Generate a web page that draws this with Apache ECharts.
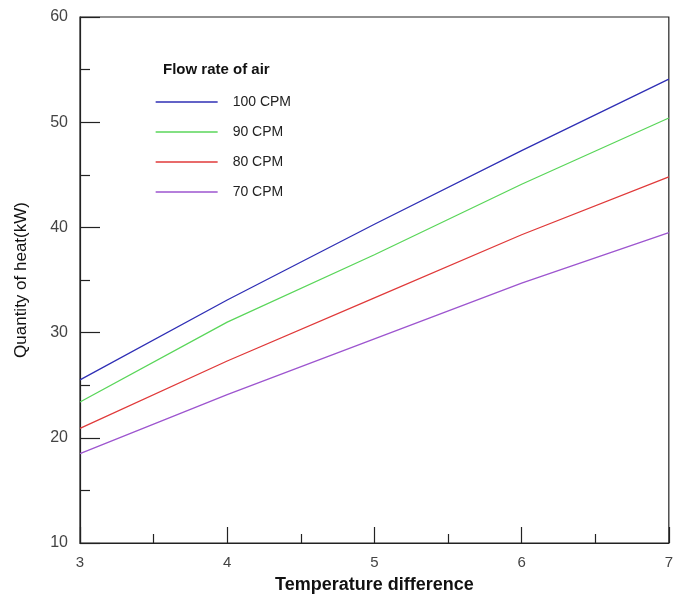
<!DOCTYPE html>
<html>
<head>
<meta charset="utf-8">
<script src="https://cdn.jsdelivr.net/npm/echarts@6/dist/echarts.min.js"></script>
<style>
  html, body { margin: 0; padding: 0; background: #fff; }
  #chart { width: 676px; height: 602px; }
</style>
</head>
<body>
<div id="chart"></div>
<script>
// temperature difference (x)
var temp_diff = [3, 4, 5, 6, 7];

// quantity of heat (kW), per flow rate
var cpm_100 = [25.5, 33.1, 40.3, 47.3, 54.1];
var cpm_90 = [23.4, 31.0, 37.4, 44.1, 50.4];
var cpm_80 = [20.9, 27.3, 33.3, 39.3, 44.8];
var cpm_70 = [18.5, 24.1, 29.4, 34.7, 39.5];

var series_names = ['100 CPM', '90 CPM', '80 CPM', '70 CPM'];
var series_colors = ['#2f2fb5', '#5ad65a', '#e03a3a', '#9d55cf'];

function pairs(ys) {
  return temp_diff.map(function (x, i) { return [x, ys[i]]; });
}

var all_data = [cpm_100, cpm_90, cpm_80, cpm_70];

var chart = echarts.init(document.getElementById('chart'));

chart.setOption({
  animation: false,
  textStyle: { fontFamily: 'Liberation Sans, Arial, sans-serif' },
  title: {
    text: 'Flow rate of air',
    left: 158,
    top: 57,
    textStyle: { fontSize: 15, fontWeight: 'bold', color: '#111' }
  },
  legend: {
    orient: 'vertical',
    left: 155,
    top: 95,
    padding: 0,
    icon: 'inherit',
    itemWidth: 62,
    itemHeight: 14,
    itemGap: 16,
    itemStyle: { opacity: 0 },
    lineStyle: { width: 1.3 },
    textStyle: { fontSize: 14, color: '#222', padding: [0, 0, 0, 10] },
    data: series_names
  },
  grid: {
    left: 80,
    right: 6,
    top: 17,
    bottom: 59,
    show: true,
    borderColor: '#222',
    borderWidth: 1.2
  },
  xAxis: {
    type: 'value',
    min: 3,
    max: 7,
    interval: 1,
    name: 'Temperature difference',
    nameLocation: 'middle',
    nameGap: 33,
    nameTextStyle: { fontSize: 18, fontWeight: 'bold', color: '#111' },
    axisLine: { lineStyle: { color: '#222', width: 1.2 } },
    axisTick: { inside: true, length: 16, lineStyle: { color: '#222', width: 1.2 } },
    minorTick: { show: true, splitNumber: 2, length: 9, lineStyle: { color: '#222', width: 1.2 } },
    axisLabel: { fontSize: 15, color: '#444', margin: 12 },
    splitLine: { show: false }
  },
  yAxis: {
    type: 'value',
    min: 10,
    max: 60,
    interval: 10,
    name: 'Quantity of heat(kW)',
    nameLocation: 'middle',
    nameGap: 50,
    nameTextStyle: { fontSize: 17, color: '#111' },
    axisLine: { show: true, lineStyle: { color: '#222', width: 1.2 } },
    axisTick: { show: true, inside: true, length: 20, lineStyle: { color: '#222', width: 1.2 } },
    minorTick: { show: true, splitNumber: 2, length: 10, lineStyle: { color: '#222', width: 1.2 } },
    axisLabel: { fontSize: 16, color: '#444', margin: 12 },
    splitLine: { show: false }
  },
  series: all_data.map(function (ys, i) {
    return {
      name: series_names[i],
      type: 'line',
      data: pairs(ys),
      symbol: 'none',
      color: series_colors[i],
      lineStyle: { width: 1.3, color: series_colors[i] }
    };
  })
});
</script>
</body>
</html>
